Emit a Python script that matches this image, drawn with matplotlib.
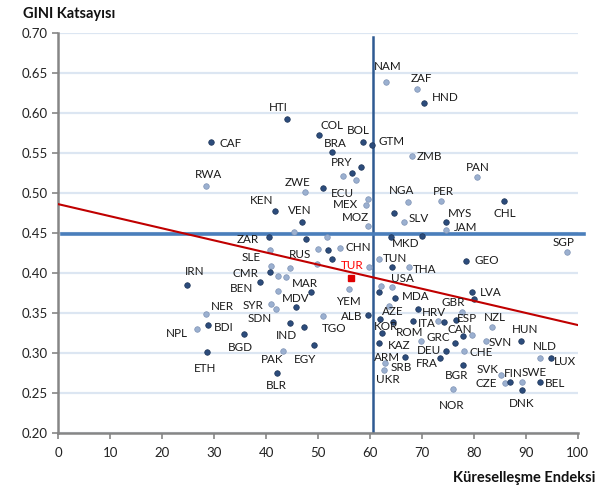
import matplotlib
matplotlib.use("Agg")
import matplotlib.pyplot as plt
from matplotlib.ticker import FormatStrFormatter

plt.rcParams['font.family'] = ['Lato', 'DejaVu Sans']

# labelled countries: code, globalisation index, GINI, shade (d=dark, l=light)
names = ['NAM', 'ZAF', 'HND', 'HTI', 'COL', 'BOL', 'GTM', 'BRA', 'CAF', 'RWA',
         'PRY', 'ZWE', 'ECU', 'MEX', 'MOZ', 'KEN', 'VEN', 'ZAR', 'CHN', 'RUS',
         'SLE', 'CMR', 'IRN', 'BEN', 'MAR', 'MDV', 'SYR', 'SDN', 'NER', 'BDI',
         'NPL', 'YEM', 'ALB', 'TGO', 'IND', 'BGD', 'ETH', 'EGY', 'PAK', 'BLR',
         'TUN', 'THA', 'USA', 'MDA', 'LVA', 'GBR', 'AZE', 'HRV', 'ITA', 'ESP',
         'NZL', 'KOR', 'ROM', 'KAZ', 'CAN', 'GRC', 'SVN', 'HUN', 'DEU', 'CHE',
         'ARM', 'FRA', 'SRB', 'UKR', 'BGR', 'SVK', 'CZE', 'FIN', 'SWE', 'BEL',
         'DNK', 'NOR', 'NLD', 'LUX', 'SGP', 'GEO', 'ZMB', 'PAN', 'NGA', 'PER',
         'SLV', 'MYS', 'JAM', 'CHL', 'MKD']
glob = [63.1, 69.1, 70.4, 44.0, 50.2, 58.7, 60.4, 52.7, 29.4, 28.4,
        54.8, 47.5, 51.0, 59.2, 59.6, 41.7, 46.9, 40.6, 54.2, 50.0,
        40.8, 40.8, 24.8, 38.8, 48.6, 45.8, 40.9, 41.9, 28.4, 28.8,
        26.7, 56.0, 59.6, 51.0, 44.6, 35.7, 28.6, 49.2, 43.3, 42.1,
        61.8, 67.5, 64.3, 64.8, 79.7, 77.7, 63.7, 69.3, 68.3, 76.6,
        83.5, 62.3, 64.4, 61.8, 77.9, 76.4, 82.4, 89.1, 74.7, 78.1,
        66.8, 73.5, 62.9, 62.7, 77.9, 85.3, 86.0, 87.0, 89.3, 92.8,
        89.3, 76.0, 92.8, 94.9, 98.0, 78.5, 68.1, 80.6, 67.3, 73.7,
        66.6, 74.7, 74.7, 85.8, 64.1]
gini = [0.639, 0.630, 0.6125, 0.5925, 0.5725, 0.564, 0.560, 0.551, 0.564, 0.509,
        0.521, 0.501, 0.506, 0.485, 0.459, 0.4775, 0.464, 0.445, 0.431, 0.430,
        0.429, 0.401, 0.385, 0.389, 0.376, 0.3575, 0.361, 0.355, 0.349, 0.335,
        0.330, 0.380, 0.3475, 0.346, 0.3375, 0.324, 0.301, 0.310, 0.3025, 0.275,
        0.4175, 0.4075, 0.3825, 0.369, 0.376, 0.351, 0.359, 0.355, 0.340, 0.341,
        0.3325, 0.325, 0.339, 0.3125, 0.321, 0.3125, 0.315, 0.315, 0.3025, 0.3025,
        0.295, 0.294, 0.2875, 0.279, 0.285, 0.2725, 0.2625, 0.264, 0.264, 0.264,
        0.254, 0.255, 0.294, 0.294, 0.426, 0.415, 0.546, 0.520, 0.489, 0.490,
        0.464, 0.464, 0.454, 0.490, 0.445]
shade = ['l', 'l', 'd', 'd', 'd', 'd', 'd', 'd', 'd', 'l',
         'l', 'l', 'd', 'l', 'l', 'd', 'd', 'd', 'l', 'l',
         'l', 'd', 'd', 'd', 'd', 'd', 'l', 'l', 'l', 'd',
         'l', 'l', 'd', 'l', 'd', 'd', 'd', 'd', 'l', 'd',
         'l', 'l', 'l', 'd', 'd', 'l', 'l', 'd', 'd', 'd',
         'l', 'd', 'd', 'd', 'd', 'd', 'l', 'd', 'd', 'l',
         'd', 'd', 'l', 'l', 'd', 'l', 'l', 'd', 'l', 'd',
         'd', 'l', 'l', 'd', 'l', 'd', 'l', 'l', 'l', 'l',
         'l', 'd', 'l', 'd', 'd']

# countries without a label
other_glob = [58.3, 56.6, 57.3, 59.6, 64.6, 45.4, 47.7, 51.7, 70.0, 51.9,
              52.7, 49.8, 64.3, 59.8, 44.6, 40.9, 42.3, 43.8, 42.3, 47.3,
              61.8, 62.1, 61.9, 69.8, 73.1, 74.3, 79.7, 80.1]
other_gini = [0.5325, 0.525, 0.516, 0.4925, 0.475, 0.451, 0.4425, 0.445, 0.446, 0.429,
              0.4175, 0.411, 0.4075, 0.4075, 0.406, 0.409, 0.396, 0.395, 0.3775, 0.3325,
              0.376, 0.384, 0.3425, 0.315, 0.340, 0.339, 0.3225, 0.3675]
other_shade = ['d', 'd', 'l', 'l', 'd', 'l', 'd', 'l', 'd', 'd',
               'd', 'l', 'd', 'l', 'l', 'l', 'l', 'l', 'l', 'd',
               'd', 'l', 'd', 'l', 'l', 'd', 'l', 'd']

tur_glob, tur_gini = 56.4, 0.394

# reference lines
mean_glob = 60.6
mean_gini = 0.449
trend_x = [0, 100]
trend_y = [0.486, 0.335]

# label offsets in pixels (dx, dy) from the marker
offsets = {
    'NAM': (2, 15), 'ZAF': (4, 10), 'HND': (21, 5), 'HTI': (-9, 11), 'COL': (13, 9),
    'BOL': (-5, 11), 'GTM': (19, 4), 'BRA': (3, 9), 'CAF': (19, -2), 'RWA': (3, 11),
    'PRY': (-1, 14), 'ZWE': (-8, 10), 'ECU': (19, -5), 'MEX': (-20, 1), 'MOZ': (-12, 8),
    'KEN': (-13, 11), 'VEN': (-2, 11), 'ZAR': (-21, -2), 'CHN': (18, 1), 'RUS': (-18, -5),
    'SLE': (-19, -8), 'CMR': (-25, -1), 'IRN': (7, 14), 'BEN': (-18, -7), 'MAR': (-6, 9),
    'MDV': (-1, 9), 'SYR': (-18, -1), 'SDN': (-16, -9), 'NER': (16, 7), 'BDI': (16, -2),
    'NPL': (-20, -4), 'YEM': (-1, -12), 'ALB': (-16, -1), 'TGO': (11, -12), 'IND': (-4, -12),
    'BGD': (-3, -14), 'ETH': (-2, -16), 'EGY': (-9, -14), 'PAK': (-11, -8), 'BLR': (-1, -12),
    'TUN': (16, 1), 'THA': (16, -2), 'USA': (10, 9), 'MDA': (21, 1), 'LVA': (18, 0),
    'GBR': (-9, 10), 'AZE': (4, -6), 'HRV': (16, -3), 'ITA': (14, -2), 'ESP': (11, 2),
    'NZL': (3, 10), 'KOR': (4, 7), 'ROM': (17, -11), 'KAZ': (20, -2), 'CAN': (-3, 7),
    'GRC': (-17, 6), 'SVN': (14, -1), 'HUN': (4, 12), 'DEU': (-17, 1), 'CHE': (17, -1),
    'ARM': (-18, 0), 'FRA': (-13, -6), 'SRB': (16, -4), 'UKR': (4, -10), 'BGR': (-6, -10),
    'SVK': (-14, 6), 'CZE': (-19, 0), 'FIN': (3, 8), 'SWE': (12, 9), 'BEL': (15, -2),
    'DNK': (0, -14), 'NOR': (-1, -16), 'NLD': (4, 11), 'LUX': (14, -4), 'SGP': (-4, 10),
    'GEO': (21, 1), 'ZMB': (17, 0), 'PAN': (1, 10), 'NGA': (-6, 11), 'PER': (2, 10),
    'SLV': (14, 3), 'MYS': (14, 8), 'JAM': (19, 2), 'CHL': (1, -12), 'MKD': (14, -6),
}

dark = '#2C4C7C'
light = '#9BB0D0'
colors = {'d': dark, 'l': light}
edges = {'d': '#1E3557', 'l': '#7F93B5'}

fig = plt.figure(figsize=(6.06, 4.91), dpi=100)
ax = fig.add_axes([0.0965, 0.1181, 0.8568, 0.8147])

ax.set_xlim(0, 100)
ax.set_ylim(0.20, 0.70)
ax.set_xticks(range(0, 101, 10))
ax.set_yticks([0.20, 0.25, 0.30, 0.35, 0.40, 0.45, 0.50, 0.55, 0.60, 0.65, 0.70])
ax.yaxis.set_major_formatter(FormatStrFormatter('%.2f'))
ax.grid(axis='y', color='#DCE6F2', linewidth=1.6)
ax.set_axisbelow(True)
for s in ['top', 'right']:
    ax.spines[s].set_visible(False)
for s in ['left', 'bottom']:
    ax.spines[s].set_color('#868686')
    ax.spines[s].set_linewidth(1.8)
ax.tick_params(axis='both', colors='#868686', width=1.2, length=4, labelsize=9.5,
               labelcolor='#222222')
ax.tick_params(axis='x', pad=6)

# reference lines
ax.plot([mean_glob, mean_glob], [0.20, 0.695], color='#2F5A92', lw=1.8, zorder=2)
ax.plot([0.7, 101.2], [mean_gini, mean_gini], color='#4A7EBB', lw=2.6, zorder=2,
        clip_on=False)

for x, y, sh in zip(other_glob, other_gini, other_shade):
    ax.plot(x, y, 'o', ms=4.0, color=colors[sh], mec=edges[sh], mew=0.5, zorder=3)

for n, x, y, sh in zip(names, glob, gini, shade):
    ax.plot(x, y, 'o', ms=4.0, color=colors[sh], mec=edges[sh], mew=0.5, zorder=3)
    ax.annotate(n, (x, y), xytext=offsets[n], textcoords='offset pixels',
                ha='center', va='center', fontsize=8.4, color='#1A1A1A', zorder=5)

ax.plot(tur_glob, tur_gini, 's', ms=4, color='#E00000', zorder=4)
ax.annotate('TUR', (tur_glob, tur_gini), xytext=(1, 12), textcoords='offset pixels',
            ha='center', va='center', fontsize=8.4, color='#FF0000', zorder=5)

ax.plot(trend_x, trend_y, color='#C00000', lw=1.5, zorder=4)

fig.text(0.038, 0.971, 'GINI Katsayısı', fontsize=10.5, fontweight='bold',
         ha='left', va='center', color='#111111')
fig.text(0.983, 0.027, 'Küreselleşme Endeksi', fontsize=10.5, fontweight='bold',
         ha='right', va='center', color='#111111')

fig.savefig('out.png', dpi=100)
